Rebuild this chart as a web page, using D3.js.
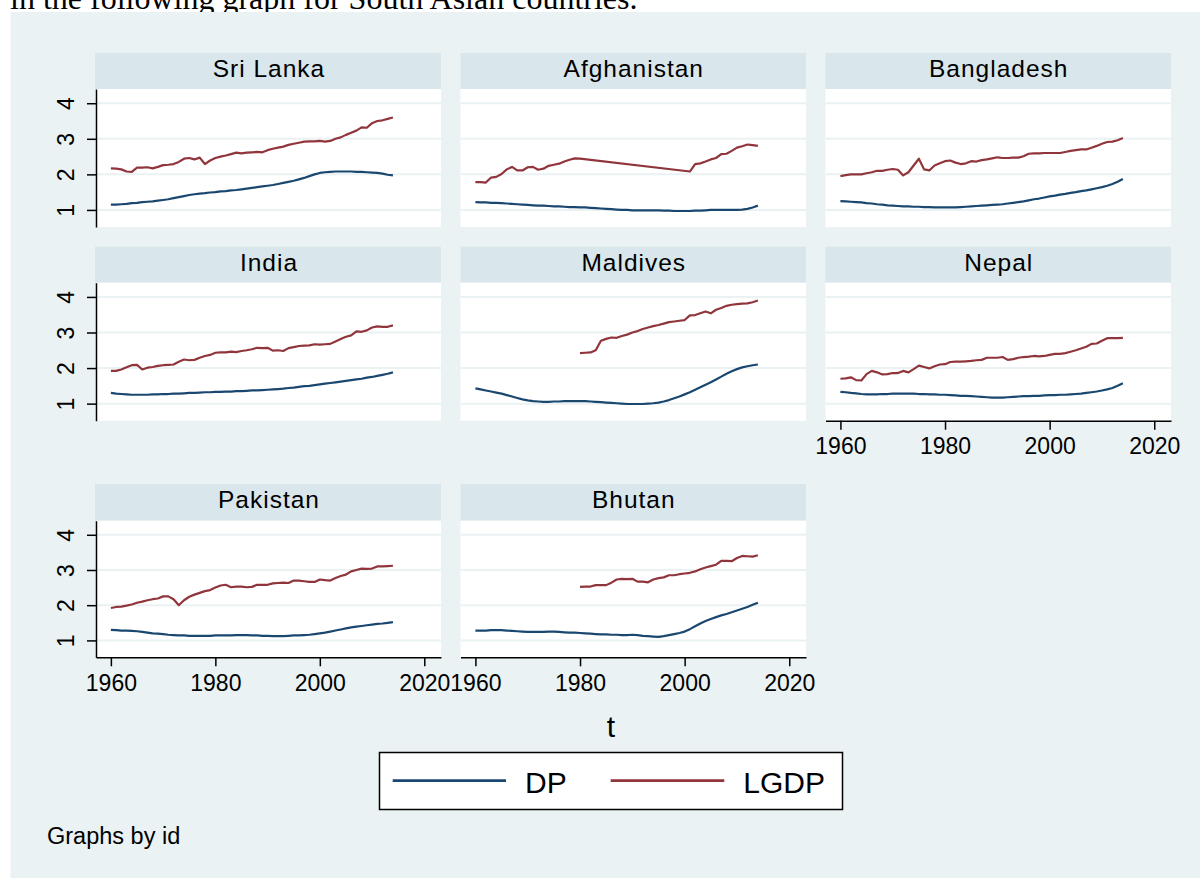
<!DOCTYPE html>
<html>
<head>
<meta charset="utf-8">
<script src="https://cdn.jsdelivr.net/npm/d3@7"></script>
<style>
  html, body { margin: 0; padding: 0; background: #ffffff; }
  svg { display: block; }
</style>
</head>
<body>
<svg id="chart" width="1200" height="878"></svg>
<script>
// ---- data -------------------------------------------------------------
const years = [
  1960, 1961, 1962, 1963, 1964, 1965, 1966, 1967, 1968, 1969,
  1970, 1971, 1972, 1973, 1974, 1975, 1976, 1977, 1978, 1979,
  1980, 1981, 1982, 1983, 1984, 1985, 1986, 1987, 1988, 1989,
  1990, 1991, 1992, 1993, 1994, 1995, 1996, 1997, 1998, 1999,
  2000, 2001, 2002, 2003, 2004, 2005, 2006, 2007, 2008, 2009,
  2010, 2011, 2012, 2013, 2014
];

const countries = ["Sri Lanka", "Afghanistan", "Bangladesh", "India", "Maldives", "Nepal", "Pakistan", "Bhutan"];

const yTicks = [1, 2, 3, 4];
const xTicks = [1960, 1980, 2000, 2020];
const seriesNames = ["DP", "LGDP"];

const dpSriLanka = [
  1.15, 1.15, 1.16, 1.17, 1.19, 1.20, 1.22, 1.23, 1.24, 1.26,
  1.28, 1.30, 1.33, 1.36, 1.39, 1.42, 1.44, 1.46, 1.47, 1.49,
  1.50, 1.52, 1.53, 1.55, 1.56, 1.58, 1.60, 1.62, 1.64, 1.66,
  1.68, 1.70, 1.73, 1.76, 1.79, 1.82, 1.86, 1.90, 1.95, 2.00,
  2.04, 2.06, 2.07, 2.08, 2.08, 2.08, 2.08, 2.07, 2.07, 2.06,
  2.05, 2.04, 2.02, 1.99, 1.97
];
const lgdpSriLanka = [
  2.17, 2.16, 2.14, 2.08, 2.07, 2.19, 2.19, 2.20, 2.17, 2.21,
  2.26, 2.27, 2.29, 2.35, 2.44, 2.46, 2.42, 2.47, 2.29, 2.39,
  2.46, 2.50, 2.53, 2.57, 2.61, 2.59, 2.61, 2.62, 2.63, 2.62,
  2.68, 2.72, 2.75, 2.78, 2.83, 2.86, 2.89, 2.92, 2.93, 2.93,
  2.94, 2.92, 2.94, 3.00, 3.04, 3.11, 3.17, 3.23, 3.32, 3.31,
  3.44, 3.50, 3.52, 3.56, 3.60
];

const dpAfghanistan = [
  1.22, 1.21, 1.21, 1.20, 1.20, 1.19, 1.18, 1.17, 1.16, 1.15,
  1.14, 1.13, 1.12, 1.12, 1.11, 1.10, 1.10, 1.09, 1.08, 1.08,
  1.07, 1.07, 1.06, 1.05, 1.04, 1.03, 1.02, 1.01, 1.00, 1.00,
  0.99, 0.99, 0.99, 0.99, 0.99, 0.99, 0.98, 0.98, 0.97, 0.97,
  0.97, 0.97, 0.98, 0.98, 0.99, 1.00, 1.00, 1.00, 1.00, 1.00,
  1.00, 1.01, 1.03, 1.07, 1.12
];
const lgdpAfghanistan = [
  1.78, 1.78, 1.77, 1.91, 1.93, 2.01, 2.14, 2.21, 2.11, 2.11,
  2.20, 2.21, 2.13, 2.16, 2.24, 2.27, 2.30, 2.36, 2.41, 2.45,
  2.44, null, null, null, null, null, null, null, null, null,
  null, null, null, null, null, null, null, null, null, null,
  null, 2.08, 2.29, 2.31, 2.36, 2.42, 2.46, 2.57, 2.58, 2.66,
  2.75, 2.79, 2.84, 2.82, 2.80
];

const dpBangladesh = [
  1.25, 1.24, 1.23, 1.22, 1.21, 1.19, 1.18, 1.16, 1.15, 1.13,
  1.12, 1.11, 1.10, 1.10, 1.09, 1.09, 1.08, 1.08, 1.07, 1.07,
  1.07, 1.07, 1.07, 1.08, 1.09, 1.10, 1.11, 1.12, 1.13, 1.14,
  1.15, 1.16, 1.18, 1.20, 1.22, 1.24, 1.27, 1.30, 1.32, 1.35,
  1.38, 1.40, 1.43, 1.45, 1.48, 1.50, 1.53, 1.55, 1.58, 1.61,
  1.64, 1.68, 1.73, 1.79, 1.87
];
const lgdpBangladesh = [
  1.95, 1.98, 2.00, 2.00, 2.00, 2.03, 2.06, 2.10, 2.10, 2.13,
  2.15, 2.13, 1.97, 2.06, 2.25, 2.44, 2.14, 2.11, 2.25, 2.31,
  2.37, 2.39, 2.33, 2.29, 2.31, 2.37, 2.36, 2.40, 2.42, 2.45,
  2.48, 2.46, 2.46, 2.47, 2.47, 2.51, 2.58, 2.59, 2.59, 2.60,
  2.60, 2.60, 2.60, 2.63, 2.66, 2.68, 2.70, 2.70, 2.75, 2.80,
  2.86, 2.91, 2.92, 2.96, 3.02
];

const dpIndia = [
  1.30, 1.28, 1.27, 1.26, 1.25, 1.25, 1.25, 1.25, 1.26, 1.26,
  1.27, 1.27, 1.28, 1.28, 1.29, 1.30, 1.30, 1.31, 1.32, 1.32,
  1.33, 1.33, 1.34, 1.34, 1.35, 1.35, 1.36, 1.37, 1.37, 1.38,
  1.39, 1.40, 1.41, 1.42, 1.44, 1.45, 1.47, 1.49, 1.50, 1.52,
  1.54, 1.56, 1.58, 1.60, 1.62, 1.64, 1.66, 1.68, 1.70, 1.73,
  1.75, 1.78, 1.81, 1.84, 1.88
];
const lgdpIndia = [
  1.92, 1.92, 1.96, 2.02, 2.08, 2.09, 1.96, 2.01, 2.03, 2.06,
  2.08, 2.09, 2.10, 2.18, 2.24, 2.22, 2.23, 2.29, 2.34, 2.37,
  2.43, 2.44, 2.44, 2.46, 2.45, 2.48, 2.50, 2.53, 2.57, 2.56,
  2.57, 2.49, 2.50, 2.48, 2.56, 2.59, 2.62, 2.63, 2.64, 2.67,
  2.66, 2.67, 2.68, 2.75, 2.82, 2.88, 2.92, 3.03, 3.02, 3.06,
  3.14, 3.17, 3.16, 3.16, 3.20
];

const dpMaldives = [
  1.43, 1.40, 1.37, 1.34, 1.31, 1.28, 1.24, 1.20, 1.16, 1.12,
  1.09, 1.07, 1.06, 1.05, 1.05, 1.06, 1.06, 1.07, 1.07, 1.07,
  1.07, 1.07, 1.06, 1.05, 1.04, 1.03, 1.02, 1.01, 1.00, 0.99,
  0.99, 0.99, 0.99, 1.00, 1.01, 1.03, 1.06, 1.10, 1.15, 1.20,
  1.26, 1.32, 1.39, 1.46, 1.53, 1.60, 1.68, 1.76, 1.84, 1.91,
  1.97, 2.02, 2.05, 2.08, 2.10
];
const lgdpMaldives = [
  null, null, null, null, null, null, null, null, null, null,
  null, null, null, null, null, null, null, null, null, null,
  2.42, 2.43, 2.44, 2.50, 2.77, 2.82, 2.86, 2.85, 2.90, 2.94,
  3.00, 3.04, 3.10, 3.14, 3.18, 3.21, 3.25, 3.29, 3.31, 3.33,
  3.35, 3.48, 3.49, 3.54, 3.59, 3.54, 3.64, 3.69, 3.75, 3.78,
  3.80, 3.81, 3.82, 3.85, 3.90
];

const dpNepal = [
  1.33, 1.32, 1.30, 1.29, 1.27, 1.26, 1.26, 1.26, 1.27, 1.27,
  1.28, 1.28, 1.28, 1.28, 1.28, 1.27, 1.27, 1.26, 1.26, 1.25,
  1.25, 1.24, 1.23, 1.22, 1.22, 1.21, 1.20, 1.19, 1.18, 1.17,
  1.17, 1.17, 1.18, 1.19, 1.20, 1.21, 1.21, 1.22, 1.22, 1.23,
  1.24, 1.24, 1.25, 1.25, 1.26, 1.27, 1.28, 1.30, 1.32, 1.34,
  1.37, 1.40, 1.44, 1.50, 1.57
];
const lgdpNepal = [
  1.70, 1.71, 1.74, 1.66, 1.65, 1.83, 1.92, 1.88, 1.82, 1.83,
  1.86, 1.86, 1.92, 1.88, 1.97, 2.07, 2.03, 1.99, 2.05, 2.10,
  2.11, 2.17, 2.18, 2.18, 2.19, 2.20, 2.22, 2.23, 2.29, 2.29,
  2.29, 2.31, 2.23, 2.25, 2.29, 2.31, 2.32, 2.34, 2.33, 2.34,
  2.37, 2.40, 2.40, 2.42, 2.46, 2.50, 2.55, 2.60, 2.68, 2.69,
  2.77, 2.84, 2.84, 2.84, 2.85
];

const dpPakistan = [
  1.30, 1.29, 1.28, 1.28, 1.27, 1.26, 1.24, 1.22, 1.20, 1.19,
  1.18, 1.16, 1.15, 1.14, 1.14, 1.13, 1.13, 1.13, 1.13, 1.13,
  1.14, 1.14, 1.14, 1.14, 1.15, 1.15, 1.15, 1.14, 1.14, 1.13,
  1.13, 1.12, 1.12, 1.12, 1.13, 1.14, 1.14, 1.15, 1.16, 1.18,
  1.20, 1.22, 1.25, 1.28, 1.31, 1.34, 1.37, 1.39, 1.41, 1.43,
  1.45, 1.47, 1.48, 1.50, 1.52
];
const lgdpPakistan = [
  1.92, 1.95, 1.96, 1.99, 2.02, 2.07, 2.10, 2.14, 2.17, 2.19,
  2.25, 2.25, 2.17, 2.00, 2.14, 2.24, 2.30, 2.35, 2.40, 2.43,
  2.50, 2.56, 2.58, 2.51, 2.53, 2.53, 2.51, 2.52, 2.58, 2.58,
  2.58, 2.62, 2.63, 2.64, 2.63, 2.70, 2.70, 2.68, 2.66, 2.66,
  2.73, 2.71, 2.70, 2.77, 2.83, 2.87, 2.96, 3.00, 3.04, 3.03,
  3.04, 3.10, 3.10, 3.11, 3.12
];

const dpBhutan = [
  1.28, 1.28, 1.28, 1.29, 1.29, 1.29, 1.28, 1.27, 1.26, 1.25,
  1.24, 1.24, 1.24, 1.24, 1.25, 1.25, 1.24, 1.23, 1.22, 1.22,
  1.21, 1.20, 1.19, 1.18, 1.17, 1.17, 1.16, 1.16, 1.15, 1.15,
  1.16, 1.15, 1.13, 1.12, 1.11, 1.10, 1.12, 1.15, 1.18, 1.21,
  1.25, 1.32, 1.40, 1.48, 1.55, 1.61, 1.66, 1.71, 1.75, 1.80,
  1.85, 1.90, 1.95, 2.01, 2.07
];
const lgdpBhutan = [
  null, null, null, null, null, null, null, null, null, null,
  null, null, null, null, null, null, null, null, null, null,
  2.52, 2.53, 2.53, 2.57, 2.57, 2.57, 2.64, 2.73, 2.75, 2.74,
  2.75, 2.67, 2.67, 2.65, 2.73, 2.77, 2.79, 2.85, 2.85, 2.88,
  2.90, 2.92, 2.96, 3.02, 3.07, 3.11, 3.15, 3.26, 3.26, 3.25,
  3.34, 3.40, 3.39, 3.38, 3.42
];

// ---- panel table built from the arrays above ---------------------------
const dpByCountry = [dpSriLanka, dpAfghanistan, dpBangladesh, dpIndia, dpMaldives, dpNepal, dpPakistan, dpBhutan];
const lgdpByCountry = [lgdpSriLanka, lgdpAfghanistan, lgdpBangladesh, lgdpIndia, lgdpMaldives, lgdpNepal, lgdpPakistan, lgdpBhutan];

// ---- layout -------------------------------------------------------------
const FONT = "'Liberation Sans', Arial, Helvetica, sans-serif";
const COLORS = { DP: "#1a476f", LGDP: "#90353b" };
const BG = "#eaf2f3";
const STRIP = "#d9e6eb";

const cols = [
  { x0: 96, x1: 441 },
  { x0: 460.5, x1: 806 },
  { x0: 825.5, x1: 1171 }
];
const rows = [
  { head: 53, top: 89, bottom: 227 },
  { head: 246.7, top: 282.7, bottom: 420.7 },
  { head: 484, top: 520.7, bottom: 657.3 }
];
const xDomain = [1957.15, 2023.2];
const yDomain = [0.52, 4.40];

const svg = d3.select("#chart");

// caption line of the surrounding document (mostly hidden by the graph area)
svg.append("text")
  .attr("x", 10)
  .attr("y", 9)
  .attr("font-family", "'Liberation Serif', 'Times New Roman', serif")
  .attr("font-size", 32)
  .attr("fill", "#000")
  .text("in the following graph for South Asian countries.");

// graph region
svg.append("rect")
  .attr("x", 10.5).attr("y", 12)
  .attr("width", 1200 - 10.5).attr("height", 878 - 12)
  .attr("fill", BG);

const panels = countries.map((name, i) => ({
  name,
  col: i % 3,
  row: Math.floor(i / 3),
  dp: years.map((yr, k) => ({ year: yr, v: dpByCountry[i][k] })).filter(d => d.v != null),
  lgdp: years.map((yr, k) => ({ year: yr, v: lgdpByCountry[i][k] })).filter(d => d.v != null)
}));

// panels that carry an x axis (bottom of each column)
const withXAxis = new Set(["Nepal", "Pakistan", "Bhutan"]);

panels.forEach(p => {
  const c = cols[p.col], r = rows[p.row];
  const x = d3.scaleLinear().domain(xDomain).range([c.x0, c.x1]);
  const y = d3.scaleLinear().domain(yDomain).range([r.bottom, r.top]);
  const g = svg.append("g").attr("class", "panel");

  // header strip with the country name
  g.append("rect")
    .attr("x", c.x0 - (p.col === 0 ? 1 : 0)).attr("y", r.head)
    .attr("width", c.x1 - c.x0 + (p.col === 0 ? 1 : 0)).attr("height", r.top - r.head)
    .attr("fill", STRIP);
  g.append("text")
    .attr("x", (c.x0 + c.x1) / 2 + 0.5)
    .attr("y", r.head + 24.3)
    .attr("text-anchor", "middle")
    .attr("font-family", FONT)
    .attr("font-size", 24.5)
    .attr("letter-spacing", 1)
    .attr("fill", "#000")
    .text(p.name);

  // plot area
  g.append("rect")
    .attr("x", c.x0).attr("y", r.top)
    .attr("width", c.x1 - c.x0).attr("height", r.bottom - r.top)
    .attr("fill", "#fff");

  // horizontal grid
  g.selectAll("line.grid")
    .data(yTicks)
    .join("line")
    .attr("class", "grid")
    .attr("x1", c.x0).attr("x2", c.x1)
    .attr("y1", d => y(d)).attr("y2", d => y(d))
    .attr("stroke", BG)
    .attr("stroke-width", 2);

  // series
  const line = d3.line().x(d => x(d.year)).y(d => y(d.v));
  g.append("path")
    .datum(p.dp)
    .attr("d", line)
    .attr("fill", "none")
    .attr("stroke", COLORS.DP)
    .attr("stroke-width", 2.2)
    .attr("stroke-linejoin", "round");
  g.append("path")
    .datum(p.lgdp)
    .attr("d", line)
    .attr("fill", "none")
    .attr("stroke", COLORS.LGDP)
    .attr("stroke-width", 2.2)
    .attr("stroke-linejoin", "round");

  // y axis on the first column
  if (p.col === 0) {
    const ya = g.append("g")
      .attr("transform", `translate(${c.x0},0)`)
      .call(d3.axisLeft(y).tickValues(yTicks).tickSize(9).tickSizeOuter(0).tickFormat(d3.format("d")));
    ya.select(".domain").attr("stroke", "#000").attr("stroke-width", 1.5);
    ya.selectAll(".tick line").attr("stroke", "#000").attr("stroke-width", 1.5);
    ya.selectAll(".tick text")
      .attr("x", null).attr("dy", null)
      .attr("transform", "translate(-22,0) rotate(-90)")
      .attr("text-anchor", "middle")
      .attr("font-family", FONT)
      .attr("font-size", 23)
      .attr("fill", "#000");
  }

  // x axis at the foot of each column
  if (withXAxis.has(p.name)) {
    const xa = g.append("g")
      .attr("transform", `translate(0,${r.bottom})`)
      .call(d3.axisBottom(x).tickValues(xTicks).tickSize(9).tickSizeOuter(0).tickFormat(d3.format("d")));
    xa.select(".domain").attr("stroke", "#000").attr("stroke-width", 1.5);
    xa.selectAll(".tick line").attr("stroke", "#000").attr("stroke-width", 1.5);
    xa.selectAll(".tick text")
      .attr("y", 33.5).attr("dy", null)
      .attr("font-family", FONT)
      .attr("font-size", 23)
      .attr("fill", "#000");
  }
});

// x axis title
svg.append("text")
  .attr("x", 611).attr("y", 736.5)
  .attr("text-anchor", "middle")
  .attr("font-family", FONT)
  .attr("font-size", 30)
  .attr("fill", "#000")
  .text("t");

// legend
const legend = svg.append("g");
legend.append("rect")
  .attr("x", 379.5).attr("y", 752.5)
  .attr("width", 463).attr("height", 57)
  .attr("fill", "#fff")
  .attr("stroke", "#000")
  .attr("stroke-width", 1.5);
const legendItems = [
  { name: seriesNames[0], x1: 392.7, x2: 506, tx: 525 },
  { name: seriesNames[1], x1: 610.7, x2: 724.3, tx: 743.3 }
];
legendItems.forEach(it => {
  legend.append("line")
    .attr("x1", it.x1).attr("x2", it.x2)
    .attr("y1", 780.7).attr("y2", 780.7)
    .attr("stroke", COLORS[it.name])
    .attr("stroke-width", 2.7);
  legend.append("text")
    .attr("x", it.tx).attr("y", 793.3)
    .attr("font-family", FONT)
    .attr("font-size", 30)
    .attr("fill", "#000")
    .text(it.name);
});

// note
svg.append("text")
  .attr("x", 47).attr("y", 844)
  .attr("font-family", FONT)
  .attr("font-size", 23.5)
  .attr("fill", "#000")
  .text("Graphs by id");
</script>
</body>
</html>
